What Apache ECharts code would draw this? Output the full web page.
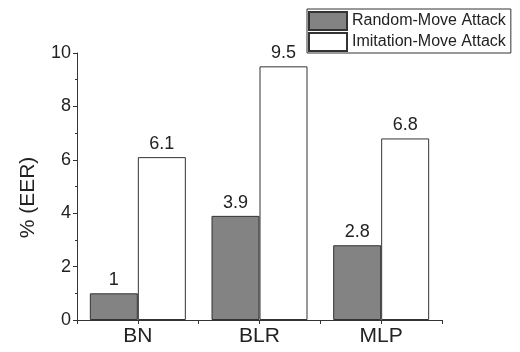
<!DOCTYPE html>
<html><head><meta charset="utf-8">
<script src="https://cdn.jsdelivr.net/npm/echarts@6/dist/echarts.min.js"></script>
<style>html,body{margin:0;padding:0;background:#fff}#c{width:520px;height:352px}</style>
</head><body><div id="c"></div>
<script>
const categories = ['BN', 'BLR', 'MLP'];
const randomMove = [1, 3.9, 2.8];
const imitationMove = [6.1, 9.5, 6.8];
const seriesNames = ['Random-Move Attack', 'Imitation-Move Attack'];
const yTicks = [0, 2, 4, 6, 8, 10];

const font = 'Liberation Sans, Arial, sans-serif';
const chart = echarts.init(document.getElementById('c'), null, {renderer: 'canvas'});
const lbl = {show: true, position: 'top', distance: 4, fontSize: 18, color: '#222', fontFamily: font,
  formatter: p => String(p.value)};
chart.setOption({
  animation: false,
  backgroundColor: '#fff',
  grid: {left: 77, right: 78, top: 53, bottom: 32},
  legend: {
    orient: 'vertical', left: 307, top: 9, padding: [2, 5, 1, 1],
    itemWidth: 38, itemHeight: 18, itemGap: 1,
    borderColor: '#333', borderWidth: 1, borderRadius: 0,
    textStyle: {fontSize: 16, color: '#222', fontFamily: font},
    data: seriesNames.map(n => ({name: n, icon: 'rect'}))
  },
  xAxis: [{
    type: 'category', data: categories,
    axisLine: {lineStyle: {color: '#333', width: 1}},
    axisTick: {show: true, alignWithLabel: false, length: 4, lineStyle: {color: '#333'}},
    axisLabel: {fontSize: 21, color: '#222', fontFamily: font, margin: 6}
  }, {
    type: 'category', data: categories, position: 'bottom',
    axisLine: {show: false},
    axisTick: {show: true, alignWithLabel: true, length: 4, lineStyle: {color: '#333'}},
    axisLabel: {show: false}
  }],
  yAxis: {
    type: 'value', min: yTicks[0], max: yTicks[yTicks.length - 1], interval: 2,
    name: '% (EER)', nameLocation: 'middle', nameGap: 38,
    nameTextStyle: {fontSize: 21, color: '#222', fontFamily: font, padding: [0, 22, 0, 0]},
    axisLine: {show: true, lineStyle: {color: '#333', width: 1}},
    axisTick: {show: true, length: 4, lineStyle: {color: '#333'}},
    minorTick: {show: true, splitNumber: 2, length: 2, lineStyle: {color: '#333'}},
    splitLine: {show: false},
    axisLabel: {fontSize: 18, color: '#222', fontFamily: font, margin: 6}
  },
  series: [{
    name: seriesNames[0], type: 'bar', data: randomMove, barWidth: 48, barGap: '0%',
    itemStyle: {color: '#838383', borderColor: '#333', borderWidth: 1},
    label: lbl
  }, {
    name: seriesNames[1], type: 'bar', data: imitationMove, barWidth: 48, barGap: '0%',
    itemStyle: {color: '#fff', borderColor: '#333', borderWidth: 1},
    label: lbl
  }]
});
</script></body></html>
